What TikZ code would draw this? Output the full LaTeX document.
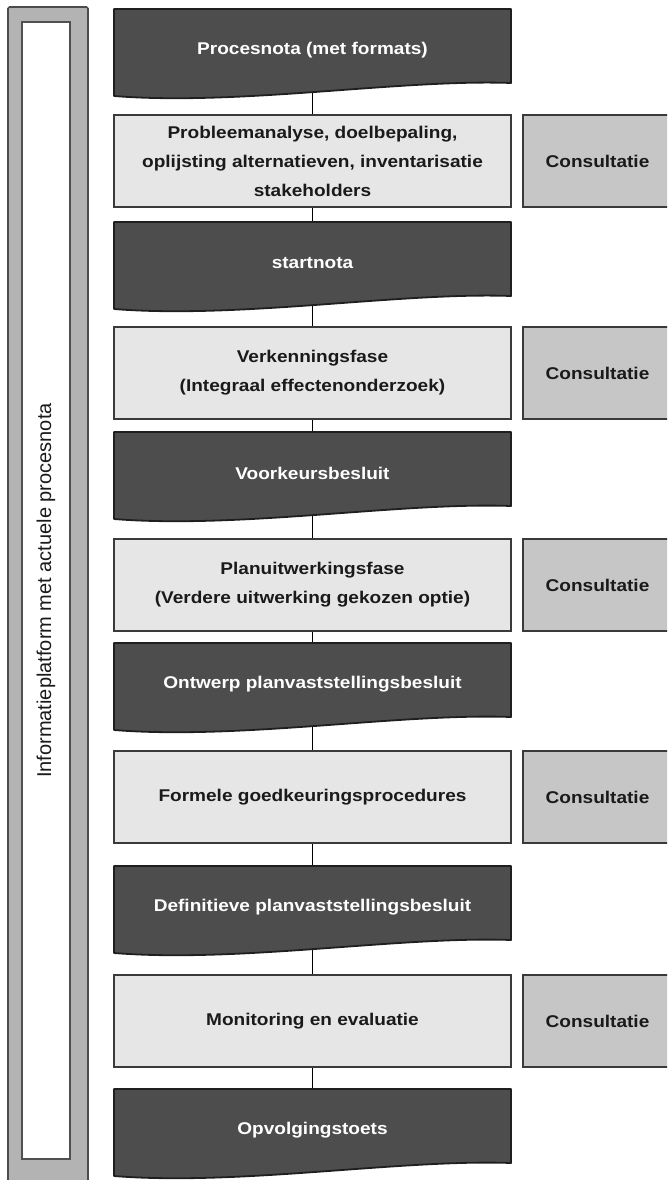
\documentclass[tikz,border=0pt]{standalone}
\usepackage{fontspec}
\setmainfont{Liberation Sans}
\newfontfamily\boxfont{Liberation Sans}[FakeStretch=1.12]
\usetikzlibrary{calc}
\pgfdeclarelayer{bg}
\pgfsetlayers{bg,main}
\definecolor{darkfill}{HTML}{4D4D4D}
\definecolor{darkline}{HTML}{1F1F1F}
\definecolor{lightfill}{HTML}{E6E6E6}
\definecolor{boxline}{HTML}{3A3A3A}
\definecolor{consfill}{HTML}{C6C6C6}
\definecolor{barfill}{HTML}{B3B3B3}
\definecolor{innerline}{HTML}{505050}
\definecolor{textdark}{HTML}{1A1A1A}
\begin{document}
\begin{tikzpicture}[x=1pt,y=-1pt,
  boxtext/.style={font=\boxfont\bfseries\fontsize{17}{29}\selectfont, align=center},
  darkbox/.style={boxtext, minimum width=397pt, minimum height=82pt, anchor=north,
    inner sep=0pt, outer sep=0pt, text=white},
  lightbox/.style={boxtext, draw=boxline, line width=1.8pt, fill=lightfill,
    minimum width=397pt, minimum height=92pt, anchor=north, inner sep=0pt,
    outer sep=0pt, text=textdark},
  consult/.style={boxtext, draw=boxline, line width=1.8pt, fill=consfill,
    minimum width=149pt, minimum height=92pt, anchor=north west, inner sep=0pt,
    outer sep=0pt, text=textdark},
  docshape/.style={draw=darkline, fill=darkfill, line width=1.8pt, line join=round},
  link/.style={draw=black, line width=1.8pt},
  barbox/.style={draw=darkline!80, fill=barfill, line width=1.6pt, rounded corners=1.5pt},
  innerbox/.style={draw=innerline, fill=white, line width=2.6pt,
    minimum width=1137pt, minimum height=48pt, inner sep=0pt, rotate=90,
    font=\fontsize{20}{24}\selectfont, text=textdark}
]
\useasboundingbox (0,0) rectangle (667,1180);
\clip (0,0) rectangle (667,1180);

% left information bar
\draw[barbox] (8,7) rectangle (88,1200);
\node[innerbox] (info) at (46,590.5) {Informatieplatform met actuele procesnota};

% main column
\node[darkbox] (d1) at (312.5,9) {Procesnota (met formats)};
\node[lightbox] (l1) at (312.5,115) {Probleemanalyse, doelbepaling,\\oplijsting alternatieven, inventarisatie\\stakeholders};
\node[darkbox] (d2) at (312.5,222) {startnota};
\node[lightbox] (l2) at (312.5,327) {Verkenningsfase\\(Integraal effectenonderzoek)};
\node[darkbox] (d3) at (312.5,432) {Voorkeursbesluit};
\node[lightbox] (l3) at (312.5,539) {Planuitwerkingsfase\\(Verdere uitwerking gekozen optie)};
\node[darkbox] (d4) at (312.5,643) {Ontwerp planvaststellingsbesluit};
\node[lightbox] (l4) at (312.5,751) {Formele goedkeuringsprocedures};
\node[darkbox] (d5) at (312.5,866) {Definitieve planvaststellingsbesluit};
\node[lightbox] (l5) at (312.5,975) {Monitoring en evaluatie};
\node[darkbox] (d6) at (312.5,1089) {Opvolgingstoets};

% consultation boxes
\node[consult] (c1) at (523,115) {Consultatie};
\node[consult] (c2) at (523,327) {Consultatie};
\node[consult] (c3) at (523,539) {Consultatie};
\node[consult] (c4) at (523,751) {Consultatie};
\node[consult] (c5) at (523,975) {Consultatie};

\begin{pgfonlayer}{bg}
  \draw[link] (d1.center) -- (l1.center) -- (d2.center) -- (l2.center) -- (d3.center)
    -- (l3.center) -- (d4.center) -- (l4.center) -- (d5.center) -- (l5.center) -- (d6.center);
  \foreach \n in {d1,d2,d3,d4,d5,d6} {
    \draw[docshape] (\n.north west) -- (\n.north east) -- ($(\n.north east)+(0,74)$)
      .. controls ($(\n.north east)+(-111,70)$) and ($(\n.north west)+(126,97)$)
      .. ($(\n.north west)+(0,87)$) -- cycle;
  }
\end{pgfonlayer}
\end{tikzpicture}
\end{document}
